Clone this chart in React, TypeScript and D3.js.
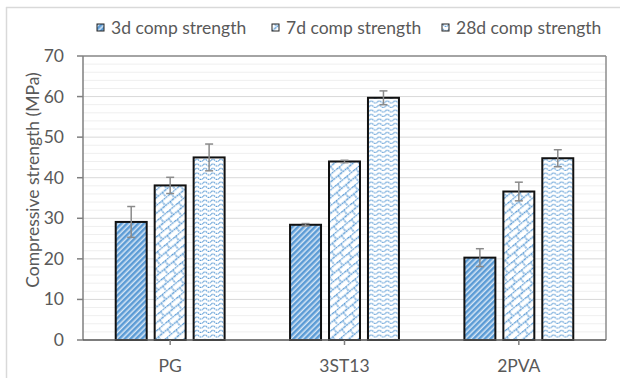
import React from "react";
import * as d3 from "d3";

const categories = ["PG", "3ST13", "2PVA"];
const seriesNames = ["3d comp strength", "7d comp strength", "28d comp strength"];
const values3d = [29.1, 28.4, 20.3];
const errors3d = [3.8, 0.3, 2.2];
const values7d = [38.1, 44.0, 36.6];
const errors7d = [2.0, 0.3, 2.3];
const values28d = [45.0, 59.7, 44.8];
const errors28d = [3.3, 1.7, 2.1];
const yTicks = [0, 10, 20, 30, 40, 50, 60, 70];

const W = 620;
const H = 378;
const left = 83;
const right = 606;
const top = 56;
const bottom = 340;
const BLUE = "#5b9bd5";
const TXT = "#595959";
const FONT = "Lato, 'Open Sans', sans-serif";
const FS = 17.5;

const seriesValues = [values3d, values7d, values28d];
const seriesErrors = [errors3d, errors7d, errors28d];
const patternIds = ["pat3d", "pat7d", "pat28d"];

export default function App() {
  const y = d3.scaleLinear().domain([0, 70]).range([bottom, top]);
  const x0 = d3.scaleBand<string>().domain(categories).range([left, right]).padding(0);
  const x1 = d3
    .scaleBand<string>()
    .domain(seriesNames)
    .range([0, x0.bandwidth()])
    .paddingInner(0.205)
    .paddingOuter(0.84);
  const minor = d3.range(0, 71, 2);
  const legendX = [97, 272, 442];

  return (
    <svg
      width={W}
      height={H}
      style={{ position: "absolute", left: 0, top: 0, background: "#fff" }}
      fontFamily={FONT}
    >
      <defs>
        <pattern id="pat3d" width="4" height="4" patternUnits="userSpaceOnUse" patternTransform="rotate(45)">
          <rect width="4" height="4" fill="#d6e6f5" />
          <rect width="2.5" height="4" fill={BLUE} />
        </pattern>
        <pattern id="pat7d" width="12" height="12" patternUnits="userSpaceOnUse" patternTransform="rotate(-40)">
          <rect width="12" height="12" fill="#fff" />
          <path d="M0 0.5 H12 M0 6.5 H12 M3 0.5 V6.5 M9 6.5 V12.5" stroke={BLUE} strokeWidth="1.3" strokeDasharray="2 0.8" fill="none" />
        </pattern>
        <pattern id="pat28d" width="8" height="4.5" patternUnits="userSpaceOnUse">
          <rect width="8" height="4.5" fill="#fff" />
          <path d="M0 3 Q2 0.8 4 3 T8 3" stroke={BLUE} strokeWidth="1.2" fill="none" strokeDasharray="2 0.7" />
        </pattern>
      </defs>

      {/* outer chart frame */}
      <line x1={6} x2={W} y1={7.5} y2={7.5} stroke="#d9d9d9" strokeWidth={1.5} />
      <line x1={6.5} x2={6.5} y1={7} y2={H} stroke="#d9d9d9" strokeWidth={1.5} />

      {/* legend */}
      {seriesNames.map((s, i) => (
        <g key={s}>
          <rect x={legendX[i]} y={24} width={7} height={7} fill={`url(#${patternIds[i]})`} stroke="#222" strokeWidth={1} />
          <text x={legendX[i] + 14} y={33.5} fontSize={FS} fill={TXT}>
            {s}
          </text>
        </g>
      ))}

      {/* gridlines */}
      {minor.map((v) => (
        <line
          key={"g" + v}
          x1={left}
          x2={right}
          y1={y(v)}
          y2={y(v)}
          stroke={v % 10 === 0 ? "#d9d9d9" : "#efefef"}
          strokeWidth={1}
        />
      ))}
      {/* plot border */}
      <line x1={left} x2={right} y1={top} y2={top} stroke="#8c8c8c" strokeWidth={1.5} />
      <line x1={right} x2={right} y1={top} y2={bottom} stroke="#8c8c8c" strokeWidth={1.5} />

      {/* bars */}
      {categories.map((c, ci) => (
        <g key={c} transform={`translate(${x0(c)},0)`}>
          {seriesNames.map((s, si) => {
            const v = seriesValues[si][ci];
            return (
              <rect
                key={s}
                x={x1(s)}
                y={y(v)}
                width={x1.bandwidth()}
                height={y(0) - y(v)}
                fill={`url(#${patternIds[si]})`}
                stroke="#111"
                strokeWidth={2}
              />
            );
          })}
          {seriesNames.map((s, si) => {
            const v = seriesValues[si][ci];
            const e = seriesErrors[si][ci];
            const cx = (x1(s) as number) + x1.bandwidth() / 2;
            return (
              <g key={"e" + s} stroke="#8a8a8a" strokeWidth={1.5}>
                <line x1={cx} x2={cx} y1={y(v + e)} y2={y(v - e)} />
                <line x1={cx - 4} x2={cx + 4} y1={y(v + e)} y2={y(v + e)} />
                <line x1={cx - 4} x2={cx + 4} y1={y(v - e)} y2={y(v - e)} />
              </g>
            );
          })}
        </g>
      ))}

      {/* y axis */}
      <line x1={left} x2={left} y1={top} y2={bottom} stroke="#7f7f7f" strokeWidth={1.5} />
      {yTicks.map((t) => (
        <g key={"t" + t}>
          <line x1={left - 6} x2={left} y1={y(t)} y2={y(t)} stroke="#7f7f7f" strokeWidth={1.5} />
          <text x={left - 19} y={y(t) + 6} fontSize={FS} fill={TXT} textAnchor="end">
            {t}
          </text>
        </g>
      ))}
      <text
        transform={`translate(39,${(top + bottom) / 2 - 18}) rotate(-90)`}
        fontSize={FS}
        fill={TXT}
        textAnchor="middle"
      >
        Compressive strength (MPa)
      </text>

      {/* x axis */}
      <line x1={left} x2={right} y1={bottom} y2={bottom} stroke="#595959" strokeWidth={1.5} />
      {categories.map((c) => {
        const cx = (x0(c) as number) + x0.bandwidth() / 2;
        return (
          <g key={"c" + c}>
            <line x1={cx} x2={cx} y1={bottom} y2={bottom + 5} stroke="#7f7f7f" strokeWidth={1.5} />
            <text x={cx} y={372} fontSize={FS} fill={TXT} textAnchor="middle">
              {c}
            </text>
          </g>
        );
      })}
    </svg>
  );
}
